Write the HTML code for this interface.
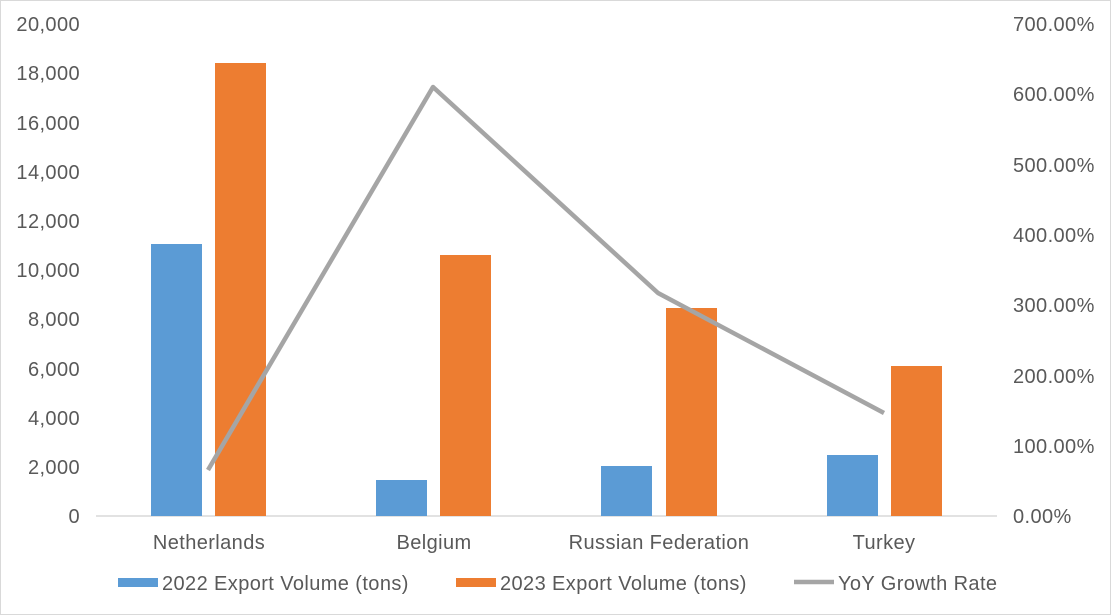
<!DOCTYPE html>
<html><head><style>
body{margin:0;background:#fff}
svg{display:block}
text{font-family:"Liberation Sans",Arial,sans-serif;fill:#595959;font-size:20px;letter-spacing:0.4px}
</style></head><body>
<svg width="1111" height="615" viewBox="0 0 1111 615">
<rect x="0.5" y="0.5" width="1110" height="614" fill="#fff" stroke="#d9d9d9"/>
<line x1="96" y1="516" x2="997" y2="516" stroke="#d9d9d9" stroke-width="1.5"/>
<g text-anchor="end">
<text x="80" y="31">20,000</text>
<text x="80" y="80">18,000</text>
<text x="80" y="130">16,000</text>
<text x="80" y="179">14,000</text>
<text x="80" y="228">12,000</text>
<text x="80" y="277">10,000</text>
<text x="80" y="326">8,000</text>
<text x="80" y="376">6,000</text>
<text x="80" y="425">4,000</text>
<text x="80" y="474">2,000</text>
<text x="80" y="523">0</text>
</g>
<g text-anchor="start" style="letter-spacing:0.8px">
<text x="1013" y="31">700.00%</text>
<text x="1013" y="101">600.00%</text>
<text x="1013" y="172">500.00%</text>
<text x="1013" y="242">400.00%</text>
<text x="1013" y="312">300.00%</text>
<text x="1013" y="383">200.00%</text>
<text x="1013" y="453">100.00%</text>
<text x="1013" y="523">0.00%</text>
</g>
<g fill="#5b9bd5">
<rect x="151" y="244" width="51" height="272"/>
<rect x="376" y="480" width="51" height="36"/>
<rect x="601" y="466" width="51" height="50"/>
<rect x="827" y="455" width="51" height="61"/>
</g>
<g fill="#ed7d31">
<rect x="215" y="63" width="51" height="453"/>
<rect x="440" y="255" width="51" height="261"/>
<rect x="666" y="308" width="51" height="208"/>
<rect x="891" y="366" width="51" height="150"/>
</g>
<polyline points="208,470 433,87 658,293 884,413" fill="none" stroke="#a5a5a5" stroke-width="4.5" stroke-linejoin="round"/>
<g text-anchor="middle">
<text x="209" y="549">Netherlands</text>
<text x="434" y="549">Belgium</text>
<text x="659" y="549">Russian Federation</text>
<text x="884" y="549">Turkey</text>
</g>
<rect x="118" y="578" width="40" height="9" fill="#5b9bd5"/>
<text x="162" y="590">2022 Export Volume (tons)</text>
<rect x="456" y="578" width="40" height="9" fill="#ed7d31"/>
<text x="500" y="590">2023 Export Volume (tons)</text>
<line x1="794" y1="582" x2="834" y2="582" stroke="#a5a5a5" stroke-width="4.5"/>
<text x="838" y="590">YoY Growth Rate</text>
</svg>
</body></html>
